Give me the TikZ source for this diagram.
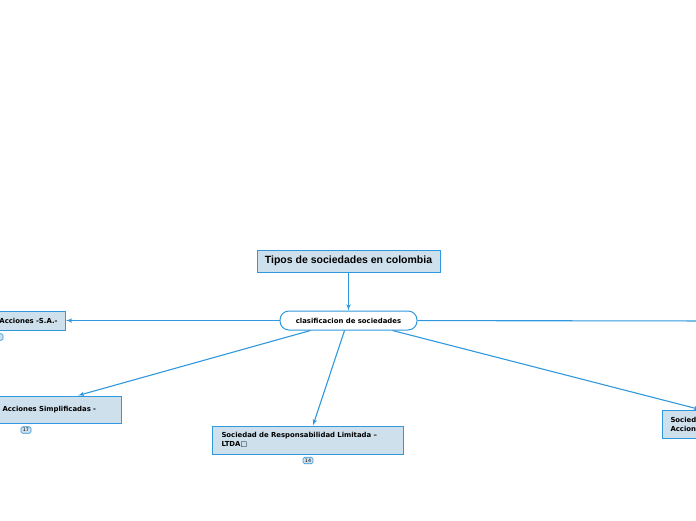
\documentclass[tikz,border=0pt]{standalone}
\usepackage{fontspec}
\setmainfont{DejaVu Sans}
\newfontfamily\titlefont{Liberation Sans}
\usetikzlibrary{arrows, positioning}

\definecolor{mapblue}{RGB}{48,152,222}
\definecolor{mapfill}{RGB}{206,224,236}

\begin{document}
\begin{tikzpicture}[
    x=1pt, y=-1pt,
    topic/.style={rectangle, draw=mapblue, fill=mapfill, line width=1pt, font=\bfseries\fontsize{6.9}{9}\selectfont, align=left, inner ysep=0pt},
    central/.style={rectangle, draw=mapblue, fill=white, line width=1pt, rounded corners=9pt, minimum width=137pt, minimum height=19pt, font=\bfseries\fontsize{6.9}{8}\selectfont},
    badge/.style={rectangle, draw=mapblue, fill=mapfill, line width=0.6pt, rounded corners=1.5pt, minimum width=10pt, minimum height=6.5pt, inner sep=0.5pt, font=\fontsize{4.8}{5}\selectfont},
    line/.style={draw=mapblue, line width=1.1pt, -latex'}
]
    \useasboundingbox (0,0) rectangle (696,520);
    \clip (0,0) rectangle (696,520);

    % Nodes
    \node [rectangle, draw=mapblue, fill=mapfill, line width=1pt, minimum width=183pt, minimum height=22pt, font=\titlefont\bfseries\fontsize{10.5}{12}\selectfont] (tipos) at (348.5,261) {Tipos de sociedades en colombia};
    \node [central] (clasif) at (348.5,320.5) {clasificacion de sociedades};

    \node [topic, anchor=east, text width=80pt, align=right, inner xsep=8pt, minimum height=19pt] (sa) at (66,320.5) {Acciones -S.A.-};
    \node [badge] (bsa) at (-2,337) {};

    \node [topic, anchor=west, text width=111pt, inner xsep=8pt, minimum height=27pt] (sas) at (-6,409.5) {Acciones Simplificadas -};
    \node [badge] (b17) at (26,430) {17};

    \node [topic, anchor=west, text width=173pt, inner xsep=9pt, minimum height=28pt] (ltda) at (212,440) {Sociedad de Responsabilidad Limitada –\\LTDA□};
    \node [badge] (b14) at (308,460.5) {14};

    \node [topic, anchor=west, text width=90pt, inner xsep=8pt, minimum height=28pt] (sca) at (662,424) {Sociedad\\Acciones};

    \coordinate (offright) at (730,321);

    % Edges
    \path [line] (tipos) -- (clasif);
    \path [line] (clasif) -- (sa);
    \path [line] ([xshift=-38pt]clasif.south) -- ([xshift=84pt]sas.north west);
    \path [line] ([xshift=-4pt]clasif.south) -- ([xshift=101pt]ltda.north west);
    \path [line] ([xshift=44pt]clasif.south) -- ([xshift=38pt]sca.north west);
    \path [draw=mapblue, line width=1.1pt] (clasif) -- (offright);
\end{tikzpicture}
\end{document}
